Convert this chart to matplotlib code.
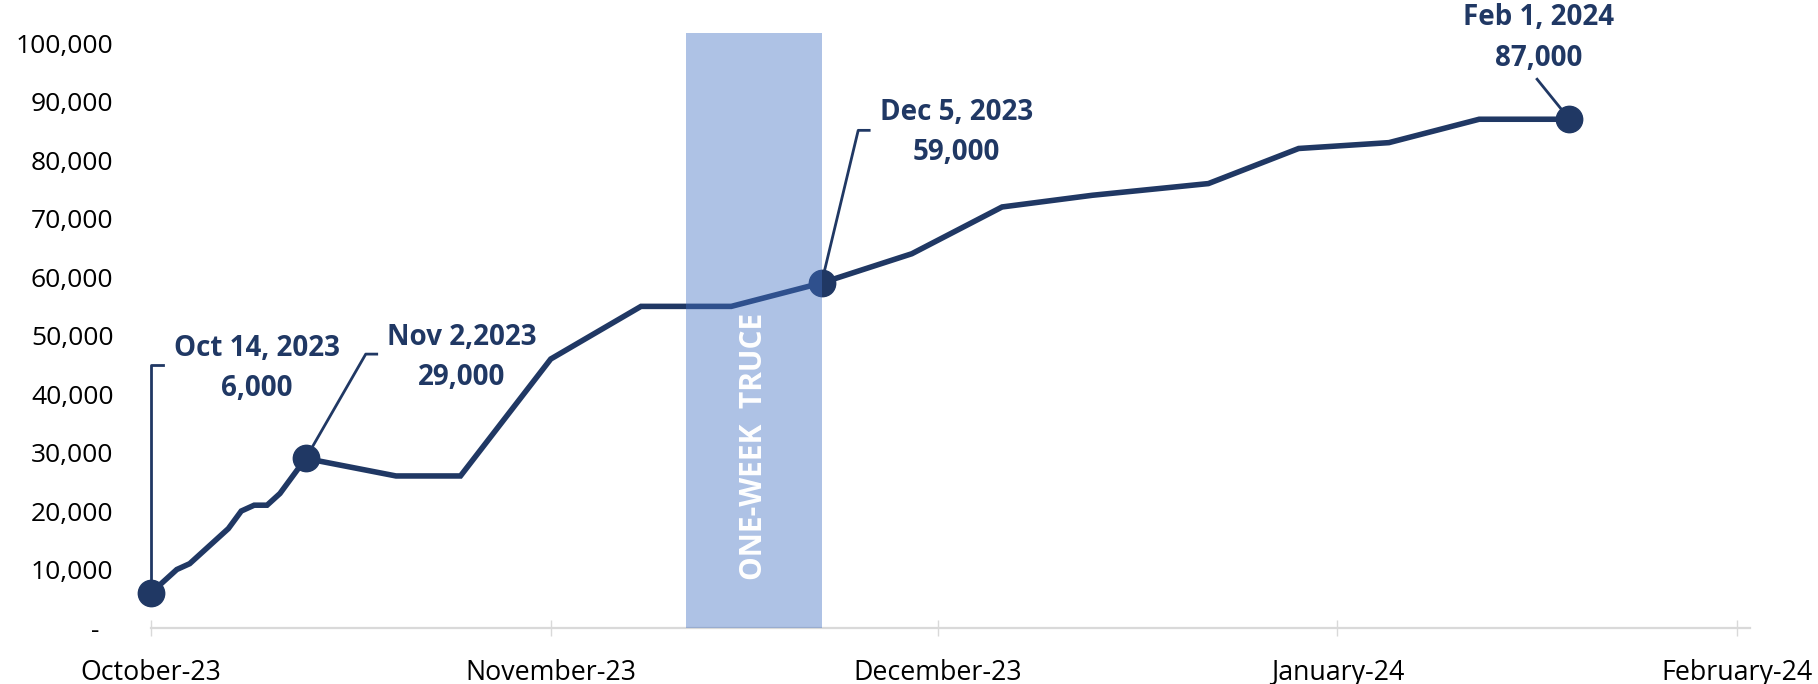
import matplotlib
matplotlib.use("Agg")
import matplotlib.pyplot as plt
import matplotlib.dates as mdates
import numpy as np
import pandas as pd
from matplotlib.ticker import FuncFormatter

plt.rcParams["font.family"] = ["Open Sans", "DejaVu Sans"]

NAVY = "#203864"
BAND = "#4472C4"
AXIS_GREY = "#D9D9D9"

# cumulative figures
dates = [
    "2023-10-14", "2023-10-16", "2023-10-17", "2023-10-20", "2023-10-21",
    "2023-10-22", "2023-10-23", "2023-10-24", "2023-10-26", "2023-11-02",
    "2023-11-07", "2023-11-14", "2023-11-21", "2023-11-28", "2023-12-05",
    "2023-12-12", "2023-12-19", "2023-12-26", "2024-01-04", "2024-01-11",
    "2024-01-18", "2024-01-25", "2024-02-01",
]
values = [
    6000, 10000, 11000, 17000, 20000,
    21000, 21000, 23000, 29000, 26000,
    26000, 46000, 55000, 55000, 59000,
    64000, 72000, 74000, 76000, 82000,
    83000, 87000, 87000,
]

# highlighted points: index, label
callout_idx = [0, 8, 14, 22]
callout_text = [
    "Oct 14, 2023\n6,000",
    "Nov 2,2023\n29,000",
    "Dec 5, 2023\n59,000",
    "Feb 1, 2024\n87,000",
]

tick_dates = ["2023-10-14", "2023-11-14", "2023-12-14", "2024-01-14", "2024-02-14"]
tick_labels = ["October-23", "November-23", "December-23", "January-24", "February-24"]

truce_start = "2023-11-24 12:00"
truce_end = "2023-12-05"
truce_label = "ONE-WEEK  TRUCE"

x = pd.to_datetime(dates)
y = np.array(values)

fig = plt.figure(figsize=(18.18, 6.84), dpi=100, facecolor="white")
ax = fig.add_axes([151 / 1818, 1 - 628 / 684, 1599 / 1818, 595.3 / 684])
ax.set_xlim(pd.Timestamp("2023-10-14"), pd.Timestamp("2024-02-15"))
ax.set_ylim(0, 101800)

ax.plot(x, y, color=NAVY, lw=4.0, solid_joinstyle="miter", zorder=3, clip_on=False)
ax.plot(x[callout_idx], y[callout_idx], "o", color=NAVY, markersize=19, zorder=4,
        clip_on=False)

ax.axvspan(pd.Timestamp(truce_start), pd.Timestamp(truce_end), color=BAND,
           alpha=0.43, lw=0, zorder=5)
mid = pd.Timestamp(truce_start) + (pd.Timestamp(truce_end) - pd.Timestamp(truce_start)) / 2
ax.text(mid, 31000, truce_label, rotation=90, ha="center", va="center",
        color="white", fontsize=21.5, fontweight="bold", zorder=6)

# text offsets (to the last line's baseline) and leader-line bends, in points
text_off = [(76.5, 141.8), (112.5, 52.8), (97, 88.3), (-22, 38.4)]
leader = [
    [(0, 164), (8.9, 164)],
    [(43.2, 75.1), (51.1, 75.1)],
    [(26.4, 109.9), (34.3, 109.9)],
    [(-23.3, 28.8)],
]
to_px = fig.dpi / 72
for i, txt, off, bends in zip(callout_idx, callout_text, text_off, leader):
    ax.annotate(txt, (x[i], y[i]), xytext=off, textcoords="offset points",
                ha="center", va="baseline", fontsize=20, fontweight="bold",
                color=NAVY, linespacing=1.52, zorder=7)
    px0, py0 = ax.transData.transform((mdates.date2num(x[i]), y[i]))
    pts = [(px0, py0)] + [(px0 + dx * to_px, py0 + dy * to_px) for dx, dy in bends]
    data_pts = ax.transData.inverted().transform(pts)
    ax.plot(data_pts[:, 0], data_pts[:, 1], color=NAVY, lw=2.0, zorder=3.5,
            clip_on=False)

ax.set_xticks(pd.to_datetime(tick_dates))
ax.set_xticklabels(tick_labels)
ax.set_yticks(np.arange(0, 100001, 10000))
ax.yaxis.set_major_formatter(FuncFormatter(lambda v, _: "-  " if v == 0 else f"{int(v):,}"))

for s in ("top", "right", "left"):
    ax.spines[s].set_visible(False)
ax.spines["bottom"].set_color(AXIS_GREY)
ax.spines["bottom"].set_linewidth(1.6)
ax.tick_params(axis="x", direction="inout", length=12, width=1.0, color=AXIS_GREY,
               pad=16, labelsize=19.3, labelcolor="black")
ax.tick_params(axis="y", length=0, pad=27, labelsize=19, labelcolor="black")

fig.savefig("out.png", dpi=100, facecolor="white")
